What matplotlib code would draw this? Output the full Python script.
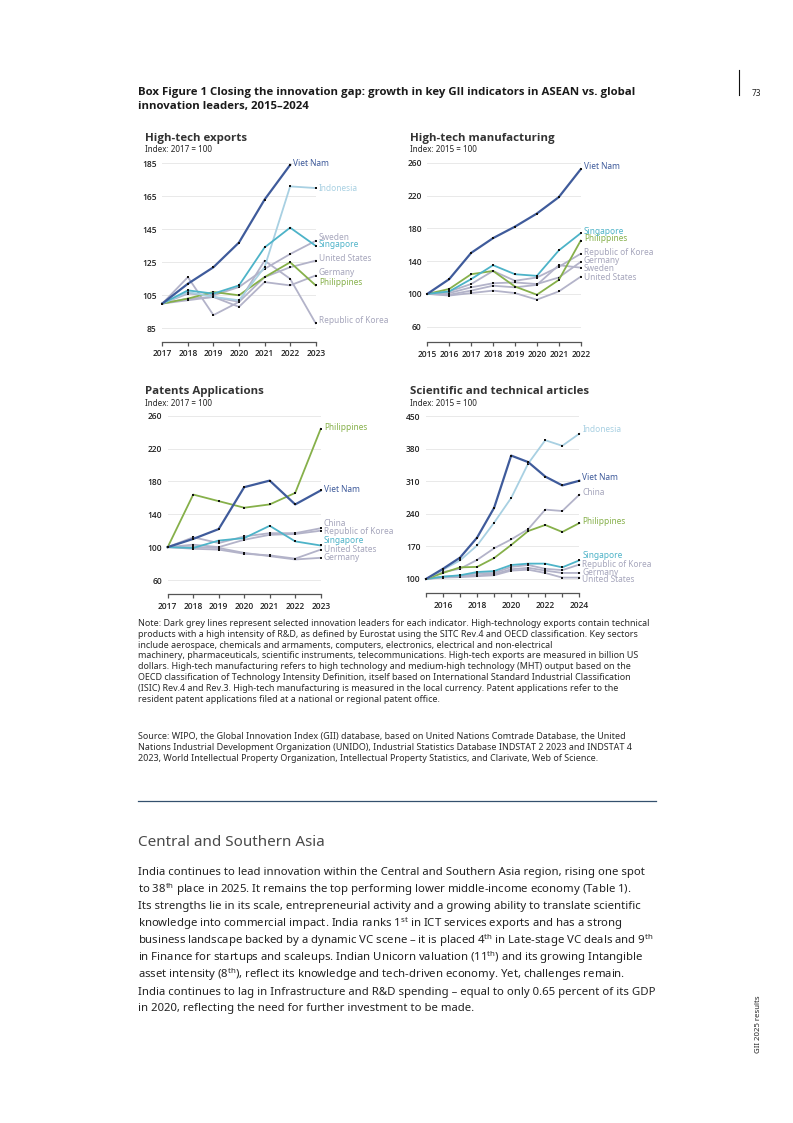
import numpy as np
import matplotlib
matplotlib.use("Agg")
import matplotlib.pyplot as plt
from matplotlib.lines import Line2D

plt.rcParams['font.family'] = ['Noto Sans', 'DejaVu Sans']
plt.rcParams['mathtext.fontset'] = 'custom'
plt.rcParams['mathtext.rm'] = 'Noto Sans'
plt.rcParams['mathtext.it'] = 'Noto Sans:italic'
plt.rcParams['mathtext.bf'] = 'Noto Sans:bold'
BOLD = ['Open Sans', 'Lato', 'DejaVu Sans']

nan = np.nan
# ---------------- data ----------------
exp_years = [2017, 2018, 2019, 2020, 2021, 2022, 2023]
exp_vn = [100, 112, 122, 137, 163, 184, nan]
exp_id = [100, 107, 104, 102, 122, 171, 170]
exp_sg = [100, 108, 106, 111, 134, 146, 135]
exp_ph = [100, 103, 107, 105, 116, 125, 111]
exp_se = [100, 106, 105, 110, 121, 130, 138]
exp_us = [100, 103, 104, 101, 116, 122, 126]
exp_de = [100, 102, 104, 98, 113, 111, 117]
exp_kr = [100, 116, 93, 101, 126, 115, 88]

man_years = [2015, 2016, 2017, 2018, 2019, 2020, 2021, 2022]
man_vn = [100, 118, 150, 168, 182, 198, 218, 252]
man_sg = [100, 103, 118, 135, 124, 122, 153, 174]
man_ph = [100, 106, 124, 128, 109, 99, 117, 165]
man_kr = [100, 103, 112, 128, 116, 120, 133, 149]
man_de = [100, 101, 108, 113, 114, 112, 120, 139]
man_se = [100, 99, 104, 110, 108, 111, 135, 132]
man_us = [100, 98, 101, 104, 101, 93, 103, 121]

pat_years = [2017, 2018, 2019, 2020, 2021, 2022, 2023]
pat_ph = [100, 164, 156, 148, 152, 166, 244]
pat_vn = [100, 110, 122, 173, 181, 152, 169]
pat_sg = [100, 99, 108, 111, 126, 107, 102]
pat_cn = [100, 112, 105, 113, 117, 117, 123]
pat_kr = [100, 103, 100, 109, 115, 116, 120]
pat_us = [100, 98, 97, 92, 90, 86, 97]
pat_de = [100, 100, 99, 93, 89, 85, 87]

art_years = [2015, 2016, 2017, 2018, 2019, 2020, 2021, 2022, 2023, 2024]
art_id = [100, 120, 140, 172, 221, 274, 348, 398, 386, 412]
art_vn = [100, 122, 146, 189, 253, 365, 351, 320, 301, 311]
art_cn = [100, 115, 122, 141, 166, 185, 207, 249, 246, 281]
art_ph = [100, 113, 125, 126, 145, 173, 203, 216, 201, 220]
art_sg = [100, 105, 108, 115, 117, 130, 133, 133, 125, 140]
art_kr = [100, 105, 107, 112, 113, 126, 130, 122, 119, 131]
art_de = [100, 104, 106, 108, 110, 121, 124, 118, 113, 113]
art_us = [100, 103, 104, 106, 108, 118, 120, 113, 103, 103]

# ---------------- styles ----------------
C_VN = '#3f5b9b'
C_ID = '#a8d0e2'
C_SG = '#4db3c8'
C_PH = '#86b04a'
C_GR = '#b3b3c9'
C_GRT = '#a6a6bc'

W, H = 793, 1123
fig = plt.figure(figsize=(W / 100, H / 100), dpi=100)


def fx(x):
    return x / W


def fy(y):
    return 1 - y / H


def fit(t, target):
    r = fig.canvas.get_renderer()
    w = t.get_window_extent(renderer=r).width
    t.set_fontsize(t.get_fontsize() * target / w)
    return t.get_fontsize()


panels = [
    dict(title='High-tech exports', index='Index: 2017 = 100', years=exp_years,
         x0=162.3, x1=315.7, ytop=158, ybot=341.7, ref=((163.3, 185), (328.3, 85)),
         yticks=[85, 105, 125, 145, 165, 185], xlabels=exp_years, tx=145, ty=138.3, iy=150,
         series=[
             ('Republic of Korea', exp_kr, C_GR, C_GRT, 90),
             ('Germany', exp_de, C_GR, C_GRT, 119),
             ('United States', exp_us, C_GR, C_GRT, 127.6),
             ('Sweden', exp_se, C_GR, C_GRT, 140.3),
             ('Philippines', exp_ph, C_PH, C_PH, 113),
             ('Indonesia', exp_id, C_ID, C_ID, 170),
             ('Singapore', exp_sg, C_SG, C_SG, 136),
             ('Viet Nam', exp_vn, C_VN, C_VN, 185),
         ]),
    dict(title='High-tech manufacturing', index='Index: 2015 = 100', years=man_years,
         x0=427.3, x1=580.7, ytop=158, ybot=342, ref=((162.7, 260), (326.7, 60)),
         yticks=[60, 100, 140, 180, 220, 260], xlabels=man_years, tx=410, ty=138.3, iy=150,
         series=[
             ('United States', man_us, C_GR, C_GRT, 120.5),
             ('Sweden', man_se, C_GR, C_GRT, 131.5),
             ('Germany', man_de, C_GR, C_GRT, 141.3),
             ('Republic of Korea', man_kr, C_GR, C_GRT, 151),
             ('Philippines', man_ph, C_PH, C_PH, 167),
             ('Singapore', man_sg, C_SG, C_SG, 176.7),
             ('Viet Nam', man_vn, C_VN, C_VN, 254.8),
         ]),
    dict(title='Patents Applications', index='Index: 2017 = 100', years=pat_years,
         x0=167.7, x1=320.7, ytop=412, ybot=594.3, ref=((415.7, 260), (580, 60)),
         yticks=[60, 100, 140, 180, 220, 260], xlabels=pat_years, tx=145, ty=391.7, iy=403.3,
         series=[
             ('Germany', pat_de, C_GR, C_GRT, 87.6),
             ('United States', pat_us, C_GR, C_GRT, 97.3),
             ('Republic of Korea', pat_kr, C_GR, C_GRT, 119.3),
             ('China', pat_cn, C_GR, C_GRT, 129),
             ('Singapore', pat_sg, C_SG, C_SG, 108.3),
             ('Philippines', pat_ph, C_PH, C_PH, 246),
             ('Viet Nam', pat_vn, C_VN, C_VN, 170.6),
         ]),
    dict(title='Scientific and technical articles', index='Index: 2015 = 100', years=art_years,
         x0=426, x1=579.3, ytop=412, ybot=593.3, ref=((416, 450), (579, 100)),
         yticks=[100, 170, 240, 310, 380, 450], xlabels=[2016, 2018, 2020, 2022, 2024],
         tx=410, ty=391, iy=403,
         series=[
             ('United States', art_us, C_GR, C_GRT, 98),
             ('Germany', art_de, C_GR, C_GRT, 115),
             ('Republic of Korea', art_kr, C_GR, C_GRT, 132.2),
             ('China', art_cn, C_GR, C_GRT, 284.7),
             ('Singapore', art_sg, C_SG, C_SG, 149.4),
             ('Philippines', art_ph, C_PH, C_PH, 224.5),
             ('Indonesia', art_id, C_ID, C_ID, 420),
             ('Viet Nam', art_vn, C_VN, C_VN, 316.9),
         ]),
]

title_objs = []
index_objs = []
name_objs = []
tick_objs = []
for p in panels:
    (y1p, v1), (y2p, v2) = p['ref']
    scale = (y2p - y1p) / (v1 - v2)
    vtop = v1 + (y1p - p['ytop']) / scale
    vbot = v2 - (p['ybot'] - y2p) / scale
    ax = fig.add_axes([fx(p['x0']), fy(p['ybot']), (p['x1'] - p['x0']) / W,
                       (p['ybot'] - p['ytop']) / H])
    yrs = p['years']
    ax.set_xlim(yrs[0], yrs[-1])
    ax.set_ylim(vbot, vtop)
    for s in ['top', 'right', 'left']:
        ax.spines[s].set_visible(False)
    ax.spines['bottom'].set_color('#555555')
    ax.spines['bottom'].set_linewidth(0.9)
    ax.spines['bottom'].set_clip_on(False)
    ax.set_yticks(p['yticks'])
    ax.set_xticks(yrs)
    ax.set_xticklabels([str(y) if y in p['xlabels'] else '' for y in yrs])
    ax.tick_params(axis='y', length=0, pad=4, labelsize=6, labelcolor='#222222')
    ax.tick_params(axis='x', direction='out', length=3, width=0.9, color='#555555',
                   pad=2.5, labelsize=6, labelcolor='#222222')
    for lab in ax.get_xticklabels() + ax.get_yticklabels():
        lab.set_family(BOLD)
        lab.set_weight('semibold')
        tick_objs.append(lab)
    for yt in p['yticks']:
        ax.axhline(yt, color='#e9e9e9', lw=0.7, zorder=0)
    ax.set_facecolor('none')
    for i, (name, vals, col, tcol, ly) in enumerate(p['series']):
        vals = np.array(vals, dtype=float)
        lw = 1.6 if name == 'Viet Nam' else 1.3
        z = 2 if col == C_GR else 3 + i * 0.01
        ax.plot(yrs, vals, color=col, lw=lw, zorder=z, clip_on=False,
                solid_joinstyle='round')
        ax.plot(yrs, vals, ls='none', marker='s', ms=1.6, mew=0, color='#111111',
                zorder=z + 0.005, clip_on=False)
        last = np.where(~np.isnan(vals))[0][-1]
        a = ax.annotate(name, xy=(yrs[last], ly), xytext=(2.2, 0), textcoords='offset points',
                        ha='left', va='center', fontsize=6, color=tcol,
                        annotation_clip=False, zorder=6)
        if name == 'Republic of Korea' and not name_objs:
            name_objs.append(a)
    t = fig.text(fx(p['tx']), fy(p['ty']), p['title'], fontsize=8, weight='bold',
                 family=BOLD, color='#333333', ha='left', va='center')
    title_objs.append(t)
    it = fig.text(fx(p['tx']), fy(p['iy']), p['index'], fontsize=5.5, color='#222222',
                  ha='left', va='center')
    index_objs.append(it)

fs = fit(title_objs[1], 144.3)
for t in title_objs:
    t.set_fontsize(fs)
fs = fit(index_objs[0], 66.7)
for t in index_objs:
    t.set_fontsize(fs)

# ---------------- page title ----------------
t1 = fig.text(fx(138), fy(92), 'Box Figure 1 Closing the innovation gap: growth in key GII indicators in ASEAN vs. global',
              fontsize=8, weight='bold', family=BOLD, color='#1a1a1a', ha='left', va='center')
fs = fit(t1, 495)
fig.text(fx(138), fy(107), 'innovation leaders, 2015\u20132024', fontsize=fs, weight='bold',
         family=BOLD, color='#1a1a1a', ha='left', va='center')

# page number and side text
fig.add_artist(Line2D([fx(739.3), fx(739.3)], [fy(70), fy(95)], color='#111111', lw=0.8))
fig.text(fx(752), fy(93), '73', fontsize=6, color='#222222', ha='left', va='center')
fig.text(fx(758.5), fy(1024), 'GII 2025 results', fontsize=5.6, color='#222222',
         rotation=90, ha='center', va='center')

# ---------------- note and source ----------------
note_lines = [
    "Note: Dark grey lines represent selected innovation leaders for each indicator. High-technology exports contain technical",
    "products with a high intensity of R&D, as defined by Eurostat using the SITC Rev.4 and OECD classification. Key sectors",
    "include aerospace, chemicals and armaments, computers, electronics, electrical and non-electrical",
    "machinery, pharmaceuticals, scientific instruments, telecommunications. High-tech exports are measured in billion US",
    "dollars. High-tech manufacturing refers to high technology and medium-high technology (MHT) output based on the",
    "OECD classification of Technology Intensity Definition, itself based on International Standard Industrial Classification",
    "(ISIC) Rev.4 and Rev.3. High-tech manufacturing is measured in the local currency. Patent applications refer to the",
    "resident patent applications filed at a national or regional patent office.",
]
note_y = [623.4, 634.2, 645, 655.8, 666.6, 677.4, 688.2, 699]
src_lines = [
    "Source: WIPO, the Global Innovation Index (GII) database, based on United Nations Comtrade Database, the United",
    "Nations Industrial Development Organization (UNIDO), Industrial Statistics Database INDSTAT 2 2023 and INDSTAT 4",
    "2023, World Intellectual Property Organization, Intellectual Property Statistics, and Clarivate, Web of Science.",
]
src_y = [736.6, 747.4, 758.4]
objs = [fig.text(fx(138), fy(y), s, fontsize=6, color='#2a2a2a', ha='left', va='center')
        for s, y in zip(note_lines, note_y)]
fs = fit(objs[0], 512)
for o in objs:
    o.set_fontsize(fs)
for s, y in zip(src_lines, src_y):
    fig.text(fx(138), fy(y), s, fontsize=fs, color='#2a2a2a', ha='left', va='center')

# ---------------- rule, heading, body ----------------
fig.add_artist(Line2D([fx(138), fx(655.5)], [fy(801), fy(801)], color='#34506e', lw=0.9))
hd = fig.text(fx(138), fy(842), 'Central and Southern Asia', fontsize=11, color='#4a4a4a',
              ha='left', va='center')
fit(hd, 187)

body = [
    "India continues to lead innovation within the Central and Southern Asia region, rising one spot",
    "to 38$^{\\mathrm{th}}$ place in 2025. It remains the top performing lower middle-income economy (Table 1).",
    "Its strengths lie in its scale, entrepreneurial activity and a growing ability to translate scientific",
    "knowledge into commercial impact. India ranks 1$^{\\mathrm{st}}$ in ICT services exports and has a strong",
    "business landscape backed by a dynamic VC scene \u2013 it is placed 4$^{\\mathrm{th}}$ in Late-stage VC deals and 9$^{\\mathrm{th}}$",
    "in Finance for startups and scaleups. Indian Unicorn valuation (11$^{\\mathrm{th}}$) and its growing Intangible",
    "asset intensity (8$^{\\mathrm{th}}$), reflect its knowledge and tech-driven economy. Yet, challenges remain.",
    "India continues to lag in Infrastructure and R&D spending \u2013 equal to only 0.65 percent of its GDP",
    "in 2020, reflecting the need for further investment to be made.",
]
bobjs = [fig.text(fx(138), fy(873 + 17 * i), s, fontsize=8, color='#222222', ha='left',
                  va='center') for i, s in enumerate(body)]
fs = fit(bobjs[0], 506)
for o in bobjs:
    o.set_fontsize(fs)

fig.savefig('out.png', dpi=100)
